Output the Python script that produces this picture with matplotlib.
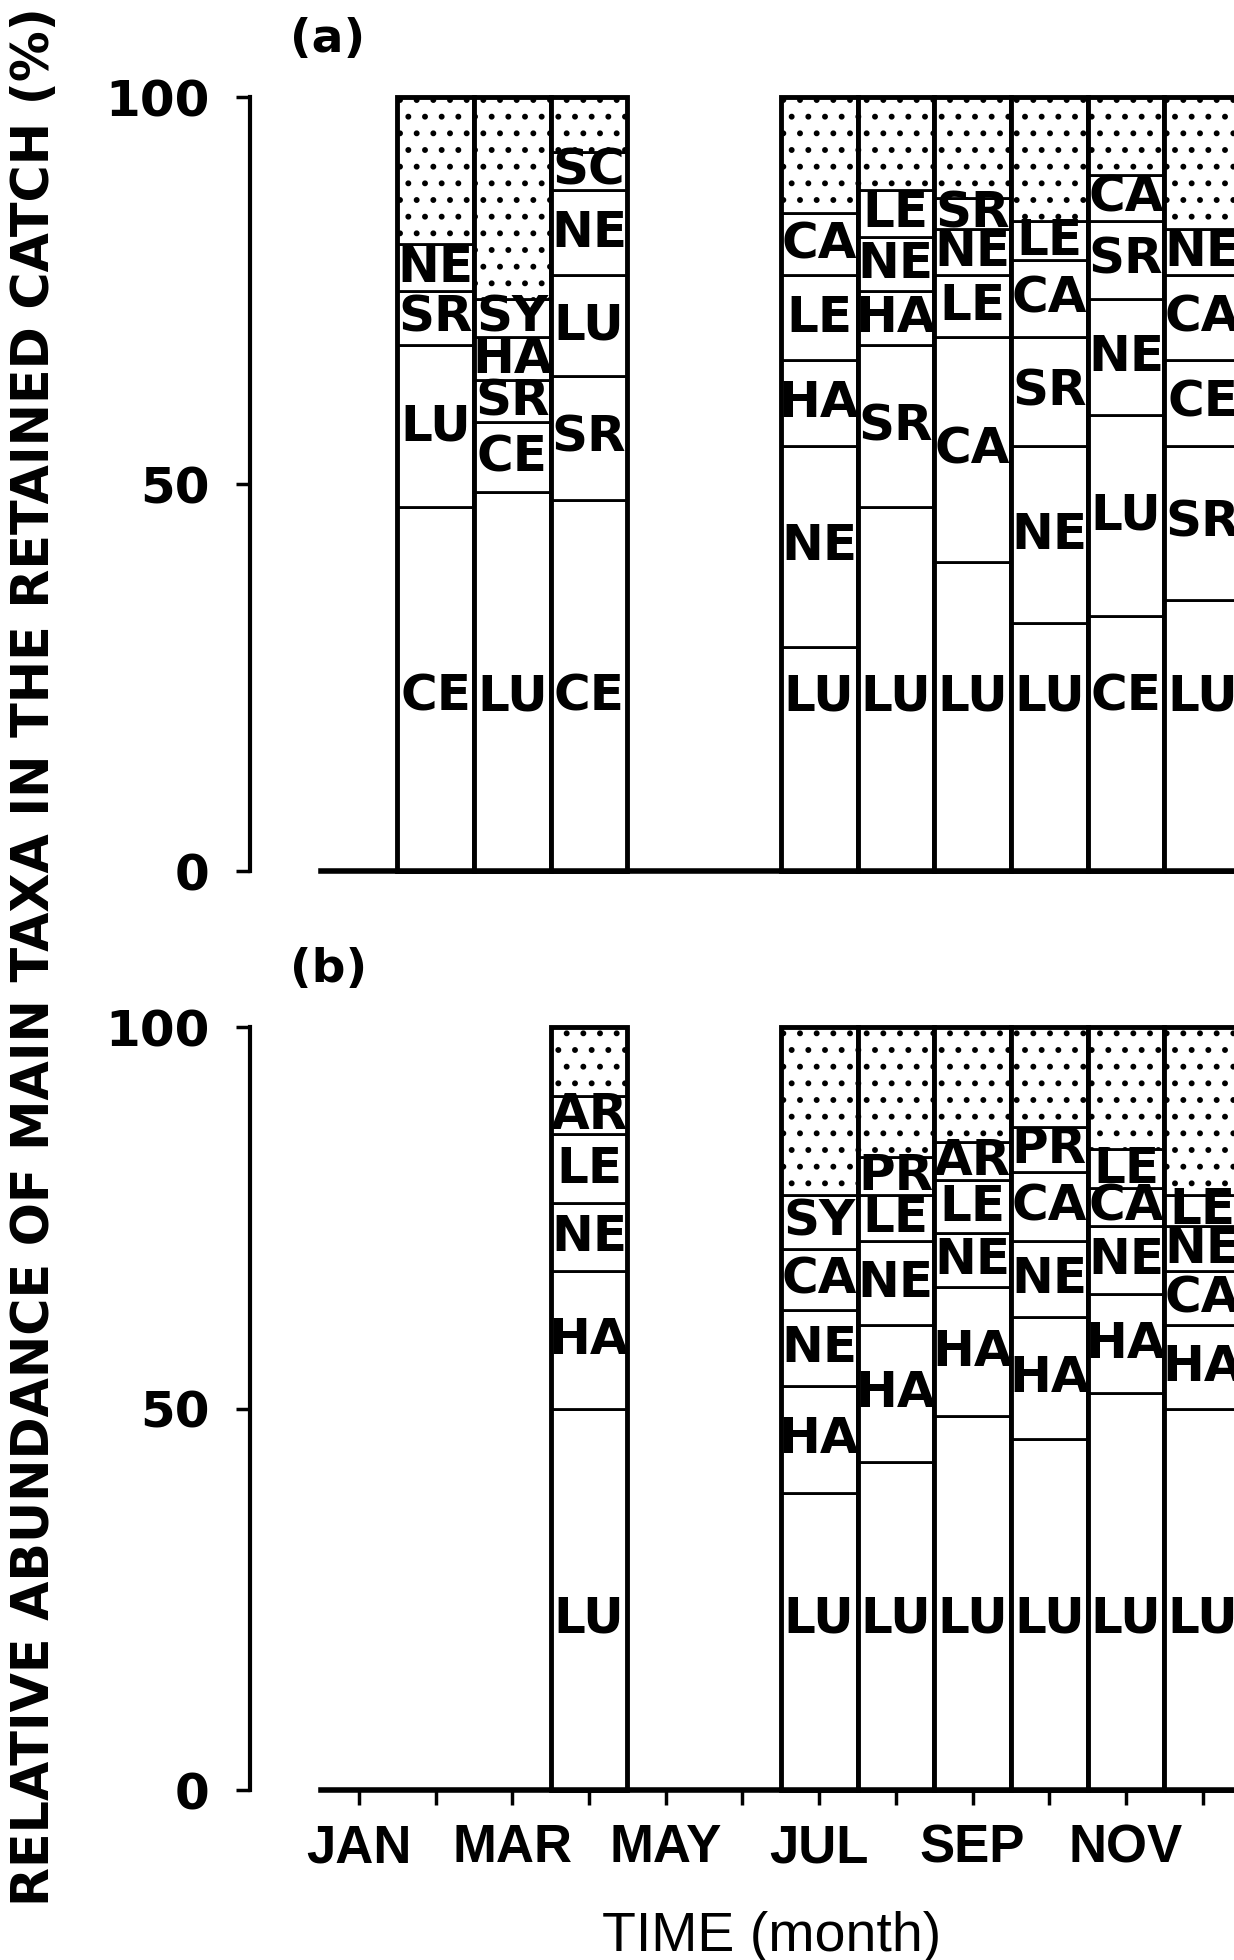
import matplotlib.pyplot as plt

months = ['JAN', 'FEB', 'MAR', 'APR', 'MAY', 'JUN',
          'JUL', 'AUG', 'SEP', 'OCT', 'NOV', 'DEC']
shown_months = ['JAN', 'MAR', 'MAY', 'JUL', 'SEP', 'NOV']

# (a) retained catch: taxa from bottom to top and their share (%); the rest is "others"
a_months = ['FEB', 'MAR', 'APR', 'JUL', 'AUG', 'SEP', 'OCT', 'NOV', 'DEC']
a_taxa = [
    ['CE', 'LU', 'SR', 'NE'],
    ['LU', 'CE', 'SR', 'HA', 'SY'],
    ['CE', 'SR', 'LU', 'NE', 'SC'],
    ['LU', 'NE', 'HA', 'LE', 'CA'],
    ['LU', 'SR', 'HA', 'NE', 'LE'],
    ['LU', 'CA', 'LE', 'NE', 'SR'],
    ['LU', 'NE', 'SR', 'CA', 'LE'],
    ['CE', 'LU', 'NE', 'SR', 'CA'],
    ['LU', 'SR', 'CE', 'CA', 'NE'],
]
a_pct = [
    [47, 21, 7, 6],
    [49, 9, 5.5, 5.5, 5],
    [48, 16, 13, 11, 5],
    [29, 26, 11, 11, 8],
    [47, 21, 7, 7, 6],
    [40, 29, 8, 6, 4],
    [32, 23, 14, 10, 5],
    [33, 26, 15, 10, 6],
    [35, 20, 11, 11, 6],
]

# (b)
b_months = ['APR', 'JUL', 'AUG', 'SEP', 'OCT', 'NOV', 'DEC']
b_taxa = [
    ['LU', 'HA', 'NE', 'LE', 'AR'],
    ['LU', 'HA', 'NE', 'CA', 'SY'],
    ['LU', 'HA', 'NE', 'LE', 'PR'],
    ['LU', 'HA', 'NE', 'LE', 'AR'],
    ['LU', 'HA', 'NE', 'CA', 'PR'],
    ['LU', 'HA', 'NE', 'CA', 'LE'],
    ['LU', 'HA', 'CA', 'NE', 'LE'],
]
b_pct = [
    [50, 18, 9, 9, 5],
    [39, 14, 10, 8, 7],
    [43, 18, 11, 6, 5],
    [49, 17, 7, 7, 5],
    [46, 16, 10, 9, 6],
    [52, 13, 9, 5, 5],
    [50, 11, 7, 6, 4],
]

plt.rcParams['hatch.linewidth'] = 1.8

fig = plt.figure(figsize=(12.34, 19.6), dpi=100)
ax_a = fig.add_axes([0.2026, 0.5556, 0.8031, 0.3947])
ax_b = fig.add_axes([0.2026, 0.0867, 0.8031, 0.3891])


def draw_panel(ax, bar_months, taxa, pct):
    for m, names, vals in zip(bar_months, taxa, pct):
        x = months.index(m)
        bottom = 0
        for i, (name, v) in enumerate(zip(names, vals)):
            ax.bar(x, v, bottom=bottom, width=1, color='white',
                   edgecolor='black', linewidth=2, clip_on=False)
            ty = 22.5 if i == 0 else bottom + v / 2
            ax.text(x, ty, name, ha='center', va='center',
                    fontsize=36, fontweight='bold')
            bottom += v
        # stippled remainder
        ax.bar(x, 100 - bottom, bottom=bottom, width=1, color='white',
               edgecolor='black', linewidth=2, hatch='.', clip_on=False)
        ax.bar(x, 100, width=1, fill=False, edgecolor='black',
               linewidth=3.5, clip_on=False)

    ax.set_xlim(-1.42, 11.5)
    ax.set_ylim(0, 100)
    for s in ['top', 'right']:
        ax.spines[s].set_visible(False)
    ax.spines['left'].set_bounds(0, 100)
    ax.spines['left'].set_linewidth(3)
    ax.spines['bottom'].set_bounds(-0.5, 11.5)
    ax.spines['bottom'].set_linewidth(4)
    ax.set_yticks([0, 50, 100])
    ax.set_yticklabels(['0', '50', '100'], fontsize=36, fontweight='bold')
    ax.tick_params(axis='y', direction='out', length=10, width=2.5, pad=19)


draw_panel(ax_a, a_months, a_taxa, a_pct)
draw_panel(ax_b, b_months, b_taxa, b_pct)

ax_a.set_xticks([])
ax_b.set_xticks(range(len(months)))
ax_b.set_xticklabels([m if m in shown_months else '' for m in months],
                     fontsize=38, fontweight='bold', family='Liberation Sans')
ax_b.tick_params(axis='x', direction='out', length=11, width=2.5, pad=13)

fig.text(0.235, 0.9796, '(a)', fontsize=34, fontweight='bold', va='center')
fig.text(0.235, 0.5056, '(b)', fontsize=34, fontweight='bold', va='center')
fig.text(0.625, 0.0117, 'TIME (month)', fontsize=40, family='Liberation Sans',
         ha='center', va='center')
fig.text(0.0284, 0.512, 'RELATIVE ABUNDANCE OF MAIN TAXA IN THE RETAINED CATCH (%)',
         rotation=90, fontsize=36.5, fontweight='bold', ha='center', va='center')

fig.savefig('out.png', dpi=100)
